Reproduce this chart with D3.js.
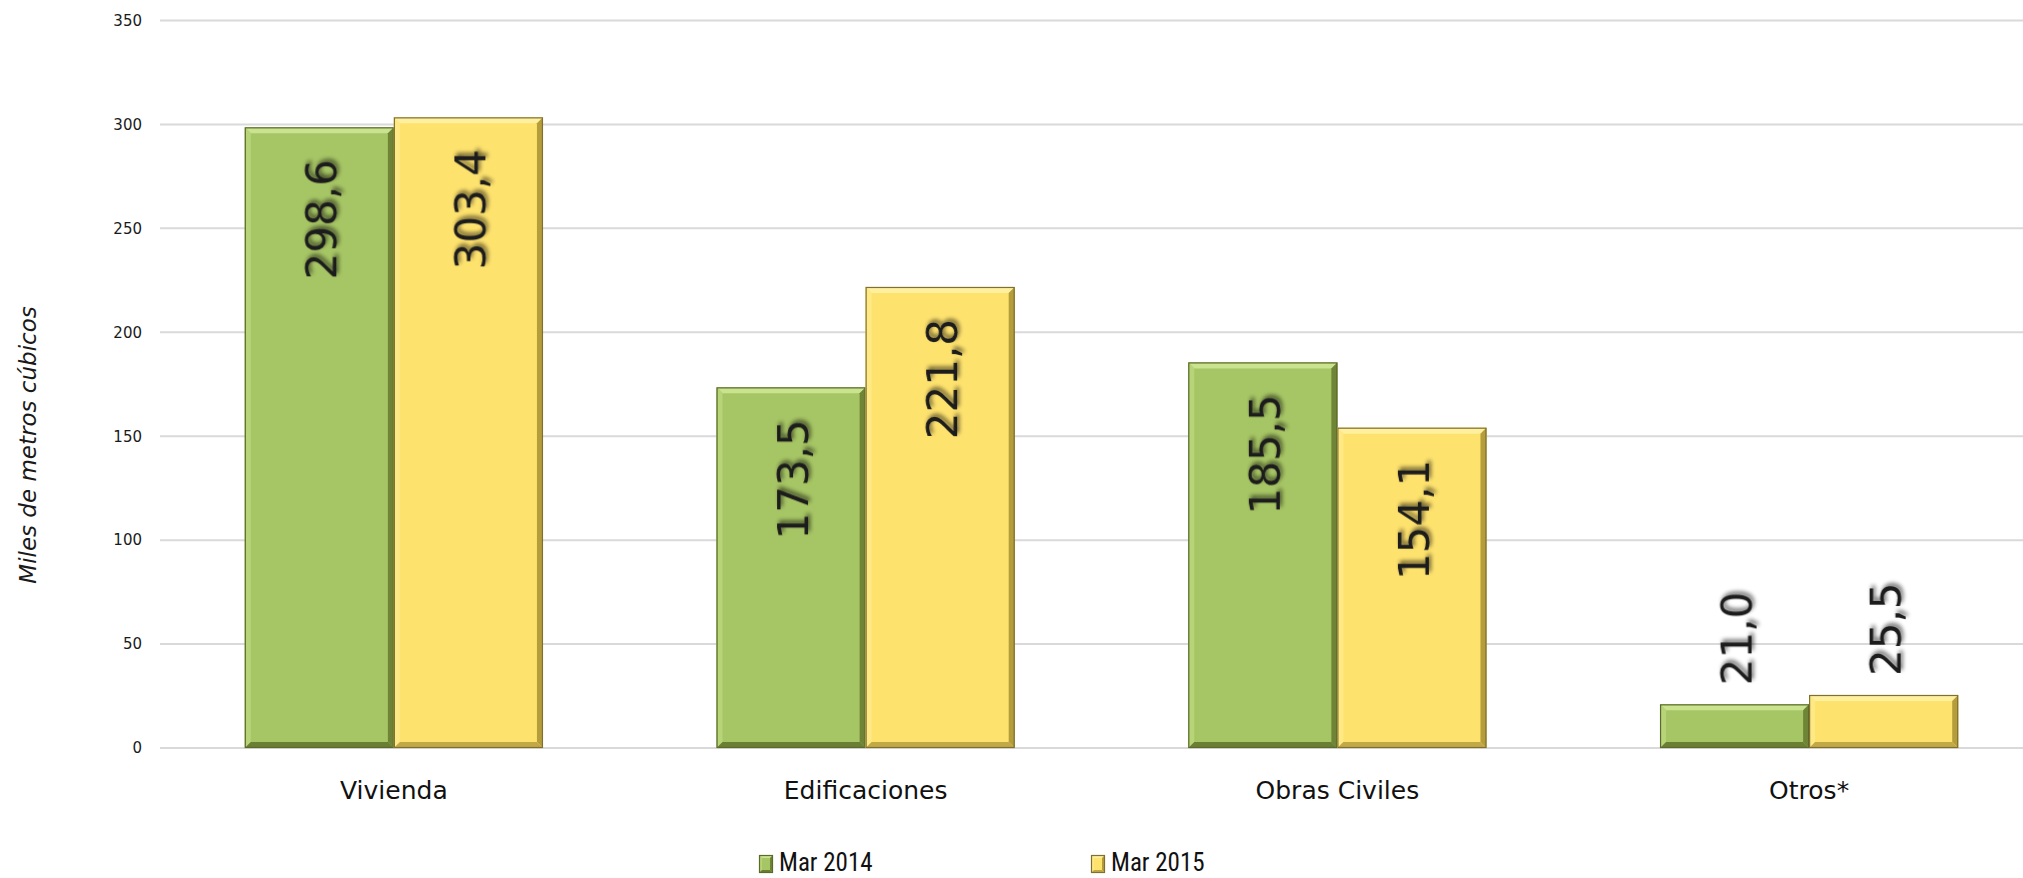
<!DOCTYPE html>
<html><head><meta charset="utf-8">
<script src="https://cdn.jsdelivr.net/npm/d3@7"></script>
<style>
html,body{margin:0;padding:0;background:#fff;}
svg{display:block;}
</style></head>
<body>
<svg id="chart" width="2023" height="878"></svg>
<script>
const categories = ["Vivienda", "Edificaciones", "Obras Civiles", "Otros*"];
const seriesNames = ["Mar 2014", "Mar 2015"];
const mar2014 = [298.6, 173.5, 185.5, 21.0];
const mar2015 = [303.4, 221.8, 154.1, 25.5];
const yTicks = [0, 50, 100, 150, 200, 250, 300, 350];
const yTitle = "Miles de metros cúbicos";

const W = 2023, H = 878;
const svg = d3.select("#chart");
const plot = {left: 158, right: 2045, top: 20.5, bottom: 748};

const x0 = d3.scaleBand().domain(categories).range([plot.left, plot.right]).paddingInner(0.368).paddingOuter(0.184);
const x1 = d3.scaleBand().domain(seriesNames).range([0, x0.bandwidth()]);
const y = d3.scaleLinear().domain([0, 350]).range([plot.bottom, plot.top]);

const styles = [
  {fill:"#a6c564", light:"#c9e38f", lightSide:"#b7d478", dark:"#6f8436", darkB:"#6a7e34", stroke:"#5a6a2b"},
  {fill:"#fee26e", light:"#fff0a0", lightSide:"#fee985", dark:"#b59d3c", darkB:"#c2a946", stroke:"#7f7030"}
];

const defs = svg.append("defs");
const f = defs.append("filter").attr("id","shadow").attr("x","-20%").attr("y","-20%").attr("width","140%").attr("height","140%");
f.append("feGaussianBlur").attr("in","SourceAlpha").attr("stdDeviation",2.2).attr("result","b");
f.append("feOffset").attr("in","b").attr("dx",3).attr("dy",2).attr("result","o");
f.append("feComponentTransfer").attr("in","o").attr("result","o2").append("feFuncA").attr("type","linear").attr("slope",0.6);
const fm = f.append("feMerge");
fm.append("feMergeNode").attr("in","o2");
fm.append("feMergeNode").attr("in","SourceGraphic");

// gridlines
svg.append("g").selectAll("line").data(yTicks).join("line")
  .attr("x1", 160).attr("x2", W).attr("y1", d=>y(d)).attr("y2", d=>y(d))
  .attr("stroke","#d9d9d9").attr("stroke-width",2);

// y axis tick labels
const yAxis = d3.axisLeft(y).tickValues(yTicks).tickSize(0).tickPadding(0).tickFormat(d3.format("d"));
const ya = svg.append("g").attr("transform","translate(142,0)").call(yAxis);
ya.select(".domain").remove();
ya.selectAll("text").attr("font-family","DejaVu Sans").attr("font-size",15).attr("fill","#1a1a1a");

// y title
svg.append("text").attr("transform",`translate(36,${445}) rotate(-90)`)
  .attr("text-anchor","middle").attr("font-family","DejaVu Sans").attr("font-style","italic")
  .attr("font-size",23).attr("fill","#1a1a1a").text(yTitle);

// bevel bar drawing
function bevelBar(g, x, yTop, w, h, s, b) {
  b = Math.min(b, h/2, w/2);
  const x2 = x + w, y2 = yTop + h;
  g.append("rect").attr("x",x).attr("y",yTop).attr("width",w).attr("height",h).attr("fill",s.fill);
  const poly = (pts, c) => g.append("polygon").attr("points", pts.map(p=>p.join(",")).join(" ")).attr("fill", c);
  poly([[x,yTop],[x2,yTop],[x2-b,yTop+b],[x+b,yTop+b]], s.light);
  poly([[x,yTop],[x+b,yTop+b],[x+b,y2-b],[x,y2]], s.lightSide);
  poly([[x2,yTop],[x2,y2],[x2-b,y2-b],[x2-b,yTop+b]], s.dark);
  poly([[x,y2],[x+b,y2-b],[x2-b,y2-b],[x2,y2]], s.darkB);
  g.append("rect").attr("x",x+0.5).attr("y",yTop+0.5).attr("width",w-1).attr("height",h-1)
    .attr("fill","none").attr("stroke",s.stroke).attr("stroke-width",1.2);
}

const fmt = v => d3.format(".1f")(v).replace(".", ",");
const seriesValues = [mar2014, mar2015];

const barsG = svg.append("g");
const labelsG = svg.append("g");
categories.forEach((c, i) => {
  seriesNames.forEach((sn, j) => {
    const v = seriesValues[j][i];
    const bx = x0(c) + x1(sn);
    const bw = x1.bandwidth();
    const yt = y(v);
    const g = barsG.append("g");
    bevelBar(g, bx, yt, bw, y(0) - yt, styles[j], 6);
    const cx = bx + bw/2;
    const inside = (y(0) - yt) > 160;
    const ly = inside ? yt + 32 : yt - 19;
    labelsG.append("text")
      .attr("transform", `translate(${cx + 17},${ly}) rotate(-90)`)
      .attr("text-anchor", inside ? "end" : "start")
      .attr("font-family","DejaVu Sans").attr("font-size",42).attr("fill","#1a1a1a")
      .attr("filter","url(#shadow)")
      .text(fmt(v));
  });
});

// x category labels
const xAxis = d3.axisBottom(x0).tickSize(0).tickPadding(0);
const xa = svg.append("g").attr("transform","translate(0,799)").call(xAxis);
xa.select(".domain").remove();
xa.selectAll("text").attr("dy",0).attr("font-family","DejaVu Sans").attr("font-size",25).attr("fill","#111");

// legend
const legendX = [759, 1091];
const lg = svg.append("g");
seriesNames.forEach((sn, j) => {
  const g = lg.append("g");
  bevelBar(g, legendX[j], 855, 14, 18, styles[j], 3);
  g.append("text").attr("x", legendX[j] + 20).attr("y", 871)
    .attr("font-family","Liberation Sans Narrow, Roboto Condensed, Open Sans, sans-serif")
    .attr("font-size",25).attr("fill","#111").text(sn);
});
</script>
</body></html>
